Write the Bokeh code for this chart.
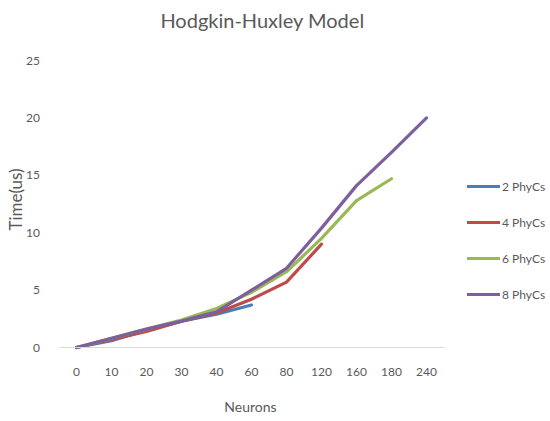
import math
from bokeh.plotting import figure
from bokeh.models import Range1d, FixedTicker, Legend, LegendItem, Label
from bokeh.embed import file_html
from bokeh.resources import INLINE

neurons = ["0", "10", "20", "30", "40", "60", "80", "120", "160", "180", "240"]
phy2 = [0, 0.6, 1.5, 2.3, 2.9, 3.7]
phy4 = [0, 0.7, 1.4, 2.3, 3.0, 4.2, 5.7, 9.0]
phy6 = [0, 0.8, 1.6, 2.4, 3.4, 4.8, 6.6, 9.5, 12.8, 14.7]
phy8 = [0, 0.8, 1.6, 2.3, 3.1, 5.0, 6.9, 10.4, 14.1, 17.0, 20.0]
series_names = ["2 PhyCs", "4 PhyCs", "6 PhyCs", "8 PhyCs"]
colors = ["#4a7ebb", "#be4b48", "#98b954", "#7d5fa0"]
y_ticks = [0, 5, 10, 15, 20, 25]

FONT = "Lato"
GRAY = "#595959"
W, H = 550, 421
# plot geometry (pixels): first category at x=76, 35 px per category; value 0 at y=347, 25 at y=60
X0, DX = 76, 35
Y0, DY = 347, 287 / 25

n = len(neurons)
p = figure(width=W, height=H,
           x_range=Range1d(-X0 / DX, (W - X0) / DX),
           y_range=Range1d(-(H - Y0) / DY, Y0 / DY),
           output_backend="svg", toolbar_location=None, min_border=0,
           min_border_left=0, min_border_right=0, min_border_top=0, min_border_bottom=0)
p.outline_line_color = None
p.xgrid.grid_line_color = None
p.ygrid.grid_line_color = None
p.background_fill_color = "white"

items = []
for name, vals, c in zip(series_names, [phy2, phy4, phy6, phy8], colors):
    xs = list(range(len(vals)))
    r = p.line(xs, vals, line_color=c, line_width=3.2, line_cap="round", line_join="round")
    items.append(LegendItem(label=name, renderers=[r]))

legend = Legend(items=items, location=(467, 117), padding=0, margin=0, spacing=16,
                glyph_width=33, glyph_height=20, label_height=20, label_standoff=2,
                label_text_font=FONT, label_text_font_size="12px", label_text_color=GRAY,
                border_line_color=None, background_fill_alpha=0)
p.add_layout(legend, "center")

xa = p.xaxis[0]
xa.fixed_location = 0
xa.ticker = FixedTicker(ticks=list(range(n)))
xa.major_label_overrides = {i: lab for i, lab in enumerate(neurons)}
xa.bounds = (-0.5, n - 0.5)
xa.axis_line_color = "#d9d9d9"
xa.major_tick_line_color = None
xa.minor_tick_line_color = None
xa.major_label_standoff = 14
xa.major_label_text_font = FONT
xa.major_label_text_font_size = "12px"
xa.major_label_text_color = GRAY

ya = p.yaxis[0]
ya.fixed_location = -0.5
ya.ticker = FixedTicker(ticks=y_ticks)
ya.bounds = (0, 25)
ya.axis_line_color = None
ya.major_tick_line_color = None
ya.minor_tick_line_color = None
ya.major_label_standoff = 13
ya.major_label_text_font = FONT
ya.major_label_text_font_size = "12px"
ya.major_label_text_color = GRAY

common = dict(x_units="screen", y_units="screen", text_font=FONT, text_color=GRAY,
              text_align="center", text_baseline="middle")
p.add_layout(Label(x=262, y=H - 19, text="Hodgkin-Huxley Model", text_font_size="20px", **common))
p.add_layout(Label(x=250, y=H - 406, text="Neurons", text_font_size="14px", **common))
p.add_layout(Label(x=15, y=H - 199, text="Time(us)", text_font_size="17px",
                   angle=math.pi / 2, **common))

open("out.html", "w").write(file_html(p, INLINE))
